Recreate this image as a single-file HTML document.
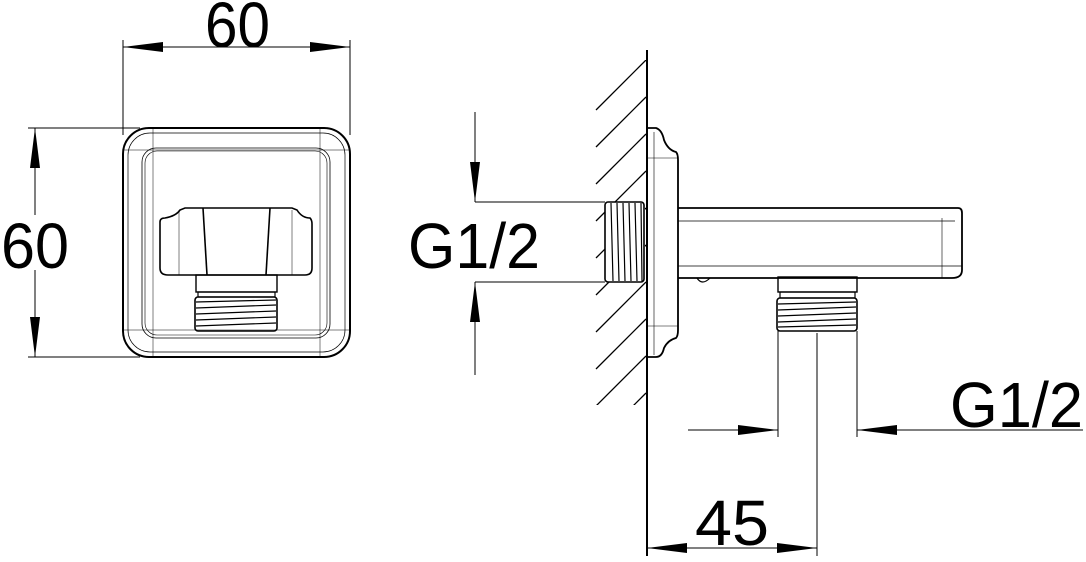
<!DOCTYPE html>
<html><head><style>html,body{margin:0;padding:0;background:#fff}svg{display:block}text{font-family:"Liberation Sans",sans-serif;fill:#000}</style></head>
<body>
<svg width="1086" height="562" viewBox="0 0 1086 562" xmlns="http://www.w3.org/2000/svg">
<defs>
<marker id="a" markerWidth="40" markerHeight="14" refX="40" refY="7" orient="auto" markerUnits="userSpaceOnUse"><path d="M0,2 L40,7 L0,12 Z" fill="#000"/></marker>
<clipPath id="hc"><rect x="594" y="60" width="53" height="345"/></clipPath>
</defs>
<g stroke="#000" fill="none" stroke-width="1">
<line x1="123" y1="40" x2="123" y2="135"/><line x1="350" y1="40" x2="350" y2="135"/>
<line x1="190" y1="47" x2="123" y2="47" marker-end="url(#a)"/><line x1="290" y1="47" x2="350" y2="47" marker-end="url(#a)"/>
<line x1="160" y1="47" x2="310" y2="47"/>
<line x1="28" y1="128" x2="140" y2="128"/><line x1="28" y1="357" x2="140" y2="357"/>
<line x1="35" y1="200" x2="35" y2="128" marker-end="url(#a)"/><line x1="35" y1="280" x2="35" y2="357" marker-end="url(#a)"/>
<line x1="35" y1="170" x2="35" y2="215"/><line x1="35" y1="270" x2="35" y2="320"/>
<rect x="123" y="128" width="227" height="229" rx="26" stroke-width="2"/>
<rect x="128" y="133" width="217" height="219" rx="22" stroke-width="0.7"/>
<rect x="142" y="148" width="188" height="190" rx="14" stroke-width="0.8"/>
<rect x="145" y="151" width="182" height="184" rx="12" stroke-width="0.6"/>
<line x1="153" y1="128" x2="153" y2="357" stroke-width="0.5"/><line x1="320" y1="128" x2="320" y2="357" stroke-width="0.5"/>
<line x1="123" y1="330" x2="350" y2="330" stroke-width="0.5"/><line x1="123" y1="150" x2="350" y2="150" stroke-width="0.5"/>
<path d="M160,222 Q160,218 165,218 Q176,216 180,210 L185,208 L292,208 L297,210 Q302,218 310,218 Q312,220 312,224 L312,268 Q312,275 305,275 L168,275 Q160,275 160,268 Z" stroke-width="1.6"/>
<line x1="203" y1="208" x2="207" y2="275" stroke-width="1.6"/><line x1="270" y1="208" x2="266" y2="275" stroke-width="1.6"/>
<line x1="179" y1="210" x2="179" y2="275" stroke-width="0.5"/><line x1="292" y1="210" x2="292" y2="275" stroke-width="0.5"/>
<rect x="196" y="275" width="81" height="17" stroke-width="1.4"/>
<rect x="198" y="292" width="77" height="5" stroke-width="1.2"/>
<rect x="195" y="297" width="82" height="34" rx="3" stroke-width="1.6"/>
<path d="M196,302 L276,300 M196,308 L276,305 M196,314 L276,311 M196,320 L276,317 M196,326 L276,323" stroke-width="1.2"/>
<line x1="647" y1="50" x2="647" y2="556" stroke-width="2"/>
<g clip-path="url(#hc)" stroke-width="1.3">
<line x1="596" y1="110" x2="646" y2="60"/><line x1="596" y1="147" x2="646" y2="97"/><line x1="596" y1="184" x2="646" y2="134"/>
<line x1="596" y1="221" x2="646" y2="171"/><line x1="596" y1="258" x2="646" y2="208"/><line x1="596" y1="295" x2="646" y2="245"/>
<line x1="596" y1="332" x2="646" y2="282"/><line x1="596" y1="369" x2="646" y2="319"/><line x1="596" y1="406" x2="646" y2="356"/>
<line x1="596" y1="443" x2="646" y2="393"/>
</g>
<rect x="605" y="202" width="40" height="80" fill="#fff" stroke="none"/>
<rect x="605" y="202" width="39" height="80" rx="3" stroke-width="1.6"/>
<path d="M611,203 L613,281 M617,203 L619,281 M623,203 L625,281 M629,203 L631,281 M635,203 L637,281 M641,203 L642,281" stroke-width="1.2"/>
<path d="M647,128 L656,128 Q662,130 664,140 Q668,150 676,152 Q678,154 678,160 L678,330 Q678,336 676,338 Q668,340 664,348 Q662,357 656,357 L647,357" stroke-width="1.8"/>
<line x1="654" y1="132" x2="654" y2="355" stroke-width="0.6"/>
<line x1="647" y1="158" x2="678" y2="158" stroke-width="0.5"/><line x1="647" y1="326" x2="678" y2="326" stroke-width="0.5"/>
<path d="M678,208 L958,208 Q962,208 962,213 L962,270 Q962,278 952,278 L678,278" stroke-width="1.8"/>
<line x1="678" y1="221" x2="955" y2="221" stroke-width="0.7"/>
<line x1="678" y1="266" x2="962" y2="266" stroke-width="0.7"/>
<line x1="942" y1="218" x2="942" y2="278" stroke-width="0.6"/>
<path d="M697,278 Q702,286 710,278" stroke-width="1.2"/>
<rect x="778" y="277" width="79" height="15" stroke-width="1.4"/>
<rect x="780" y="292" width="75" height="6" stroke-width="1.2"/>
<rect x="777" y="298" width="80" height="33" rx="3" stroke-width="1.6"/>
<path d="M778,304 L856,302 M778,310 L856,307 M778,316 L856,313 M778,322 L856,319 M778,327 L856,325" stroke-width="1.2"/>
<line x1="475" y1="202" x2="605" y2="202"/><line x1="475" y1="282" x2="605" y2="282"/>
<line x1="475" y1="112" x2="475" y2="202" marker-end="url(#a)"/><line x1="475" y1="375" x2="475" y2="282" marker-end="url(#a)"/>
<line x1="778" y1="331" x2="778" y2="437"/><line x1="857" y1="331" x2="857" y2="437"/>
<line x1="688" y1="430" x2="778" y2="430" marker-end="url(#a)"/><line x1="1083" y1="430" x2="857" y2="430" marker-end="url(#a)"/>
<line x1="817" y1="333" x2="817" y2="556"/>
<line x1="700" y1="548" x2="647" y2="548" marker-end="url(#a)"/><line x1="760" y1="548" x2="817" y2="548" marker-end="url(#a)"/>
<line x1="680" y1="548" x2="790" y2="548"/>
</g>
<text x="205" y="47" font-size="64" textLength="65" lengthAdjust="spacingAndGlyphs">60</text>
<text x="1" y="268" font-size="64" textLength="68" lengthAdjust="spacingAndGlyphs">60</text>
<text x="408" y="268" font-size="64" textLength="132" lengthAdjust="spacingAndGlyphs">G1/2</text>
<text x="950" y="427" font-size="64" textLength="133" lengthAdjust="spacingAndGlyphs">G1/2</text>
<text x="695" y="545" font-size="64" textLength="74" lengthAdjust="spacingAndGlyphs">45</text>
</svg>
</body></html>
